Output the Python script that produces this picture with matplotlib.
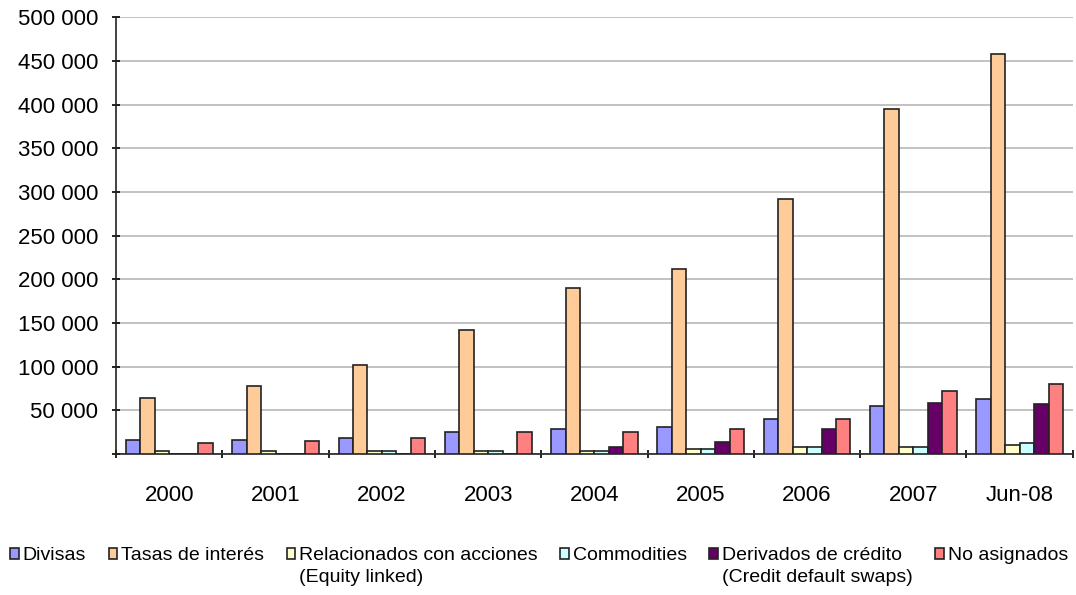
import numpy as np
import matplotlib.pyplot as plt
from matplotlib.ticker import FuncFormatter
from matplotlib.transforms import IdentityTransform

plt.rcParams['font.family'] = ['Liberation Sans', 'DejaVu Sans']

# Datos (miles de millones USD)
periodos = ['2000', '2001', '2002', '2003', '2004', '2005', '2006', '2007', 'Jun-08']
divisas = [16000, 16500, 18000, 25000, 28500, 30500, 39500, 55500, 62500]
tasas = [64500, 77500, 102000, 142000, 190500, 212000, 291500, 394500, 458500]
acciones = [3500, 3500, 3500, 3500, 3500, 5500, 8500, 8500, 10500]
commodities = [0, 0, 3500, 3500, 3500, 5500, 8500, 8500, 12500]
credito = [0, 0, 0, 0, 8500, 14000, 28500, 58000, 57500]
no_asignados = [12500, 14500, 18000, 25000, 25000, 28500, 39500, 72000, 80500]

series = [divisas, tasas, acciones, commodities, credito, no_asignados]
nombres = ['Divisas', 'Tasas de interés', 'Relacionados con acciones',
           'Commodities', 'Derivados de crédito  ', 'No asignados']
segunda_linea = {2: '(Equity linked)', 4: '(Credit default swaps)'}
colores = ['#9999FF', '#FFCC99', '#FFFFCC', '#CCFFFF', '#660066', '#FF8080']

fig = plt.figure(figsize=(10.76, 5.95), dpi=100)
ax = fig.add_axes([0.108, 0.237, 0.889, 0.734])

x = np.arange(len(periodos))
ancho = 0.136
for i, (valores, nombre, color) in enumerate(zip(series, nombres, colores)):
    pos = x + (i - 2.5) * ancho
    ax.bar(pos, valores, width=ancho, color=color, edgecolor='#222222',
           linewidth=1.2, label=nombre, zorder=3)

ax.set_xlim(-0.5, len(periodos) - 0.5)
ax.set_ylim(0, 500000)
ax.set_yticks(np.arange(0, 500001, 50000))
ax.yaxis.set_major_formatter(FuncFormatter(
    lambda v, p: '' if v == 0 else f'{int(v):,}'.replace(',', ' ')))
ax.yaxis.grid(True, color='#b8b8b8', linewidth=1.2, zorder=0)

# marcas del eje x entre categorías
ax.set_xticks(np.arange(-0.5, len(periodos), 1.0))
ax.set_xticklabels([])
ax.set_xticks(x, minor=True)
ax.set_xticklabels(periodos, minor=True)
ax.tick_params(axis='x', which='minor', length=0, labelsize=16, pad=22)
ax.tick_params(axis='x', which='major', length=6, width=1.2, direction='inout')
ax.tick_params(axis='y', length=6, width=1.2, direction='inout', labelsize=16, pad=10)

for lado in ['top', 'right']:
    ax.spines[lado].set_visible(False)
for lado in ['left', 'bottom']:
    ax.spines[lado].set_linewidth(1.2)
    ax.spines[lado].set_color('#222222')

leg = fig.legend(loc='center', bbox_to_anchor=(0.501, 1 - 556 / 595), ncol=6,
                 frameon=False, fontsize=14, handlelength=0.45, handleheight=0.45,
                 handletextpad=0.2, columnspacing=1.15)

# segunda línea de las etiquetas largas, alineada a la izquierda bajo la primera
fig.canvas.draw()
for i, texto in segunda_linea.items():
    bb = leg.get_texts()[i].get_window_extent()
    fig.text(bb.x0, bb.y0 - 4, texto, fontsize=14, va='top', ha='left',
             transform=IdentityTransform())

fig.savefig('out.png', dpi=100)
